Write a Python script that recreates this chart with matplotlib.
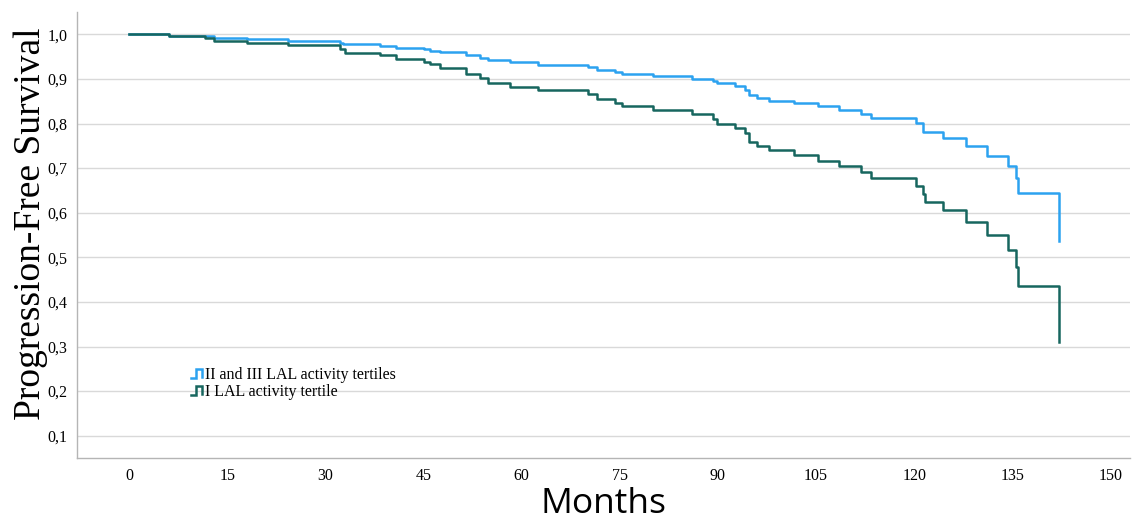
import numpy as np
import matplotlib
matplotlib.use('Agg')
import matplotlib.pyplot as plt
from matplotlib.legend_handler import HandlerBase
from matplotlib.lines import Line2D

# Kaplan-Meier steps (months, survival)
months_hi = [0, 6, 13, 18, 24.2, 32.2, 32.6, 38.3, 40.8, 45.1, 45.9, 47.5, 51.5, 53.6, 54.9,
             58.2, 62.5, 70.2, 71.5, 74.3, 75.4, 80.1, 86.0, 89.3, 89.9, 92.6, 94.2, 94.7, 96.0,
             97.8, 101.6, 105.3, 108.5, 111.8, 113.4, 120.3, 121.4, 124.4, 128.0, 131.2, 134.4,
             135.5, 135.8, 142.1]
surv_hi = [1.0, 0.996, 0.992, 0.989, 0.985, 0.981, 0.978, 0.974, 0.970, 0.967, 0.962, 0.960,
           0.953, 0.947, 0.942, 0.937, 0.932, 0.927, 0.921, 0.916, 0.911, 0.906, 0.900, 0.895,
           0.890, 0.884, 0.876, 0.864, 0.858, 0.851, 0.845, 0.839, 0.830, 0.821, 0.812, 0.801,
           0.780, 0.767, 0.750, 0.728, 0.705, 0.677, 0.644, 0.536]

months_lo = [0, 6.1, 11.5, 13, 18, 24.2, 32.2, 32.9, 38.3, 40.8, 45.1, 45.9, 47.5, 51.5, 53.6,
             54.9, 58.2, 62.5, 70.2, 71.5, 74.3, 75.4, 80.1, 86.0, 89.3, 89.9, 92.6, 94.2, 94.7,
             96.0, 97.8, 101.6, 105.3, 108.5, 111.8, 113.4, 120.3, 121.3, 121.6, 124.4, 128.0,
             131.2, 134.4, 135.5, 135.8, 142.1]
surv_lo = [1.0, 0.996, 0.991, 0.985, 0.980, 0.975, 0.966, 0.958, 0.953, 0.944, 0.938, 0.933,
           0.925, 0.910, 0.901, 0.890, 0.882, 0.875, 0.866, 0.856, 0.847, 0.839, 0.830, 0.821,
           0.810, 0.800, 0.789, 0.779, 0.759, 0.749, 0.740, 0.729, 0.716, 0.704, 0.691, 0.678,
           0.659, 0.643, 0.624, 0.605, 0.579, 0.549, 0.517, 0.478, 0.435, 0.309]

labels = ['II and III LAL activity tertiles', 'I LAL activity tertile']
colors = ['#2CA2F0', '#17665F']

x_ticks = [0, 15, 30, 45, 60, 75, 90, 105, 120, 135, 150]
y_ticks = [0.1, 0.2, 0.3, 0.4, 0.5, 0.6, 0.7, 0.8, 0.9, 1.0]


class StepHandler(HandlerBase):
    """Small step-shaped legend icon like SPSS draws"""
    def create_artists(self, legend, orig_handle, xdescent, ydescent,
                       width, height, fontsize, trans):
        xs = np.array([0.0, 0.35, 0.35, 0.85, 0.85]) * width - xdescent
        ys = np.array([0.1, 0.1, 0.9, 0.9, 0.2]) * height - ydescent
        line = Line2D(xs, ys, color=orig_handle.get_color(), lw=orig_handle.get_linewidth(),
                      solid_joinstyle='miter')
        line.set_transform(trans)
        return [line]


fig = plt.figure(figsize=(11.32, 5.21), dpi=100)
ax = fig.add_axes([77 / 1132, (521 - 458) / 521, (1130 - 77) / 1132, (458 - 12) / 521])

serif = 'Liberation Serif'

handles = []
for t, s, c, lab in [(months_hi, surv_hi, colors[0], labels[0]),
                     (months_lo, surv_lo, colors[1], labels[1])]:
    h, = ax.step(t, s, where='post', color=c, lw=1.8, label=lab)
    handles.append(h)

ax.set_xlim(-8, 153)
ax.set_ylim(0.05, 1.05)
ax.set_xticks(x_ticks)
ax.set_yticks(y_ticks)
ax.set_yticklabels([f'{v:.1f}'.replace('.', ',') for v in y_ticks])
ax.tick_params(length=0, labelsize=11.5, pad=7)
for lab in ax.get_xticklabels() + ax.get_yticklabels():
    lab.set_fontfamily(serif)

ax.grid(axis='y', color='#D9D9D9', lw=1)
ax.set_axisbelow(True)
for side in ['top', 'right']:
    ax.spines[side].set_visible(False)
for side in ['left', 'bottom']:
    ax.spines[side].set_color('#B5B5B5')
    ax.spines[side].set_linewidth(1)

ax.set_ylabel('Progression-Free Survival', fontfamily=serif, fontsize=27)
ax.yaxis.set_label_coords(-0.028, 0.525)
ax.set_xlabel('Months', fontfamily='Open Sans', fontsize=25.5)
ax.xaxis.set_label_coords(0.5, -0.064)

leg = ax.legend(handles=handles, labels=labels, loc='lower left',
                bbox_to_anchor=(0.095, 0.097), frameon=False,
                handler_map={Line2D: StepHandler()},
                handlelength=0.8, handletextpad=0.05, labelspacing=0.1,
                prop={'family': serif, 'size': 11.5})

fig.savefig('out.png', dpi=100)
